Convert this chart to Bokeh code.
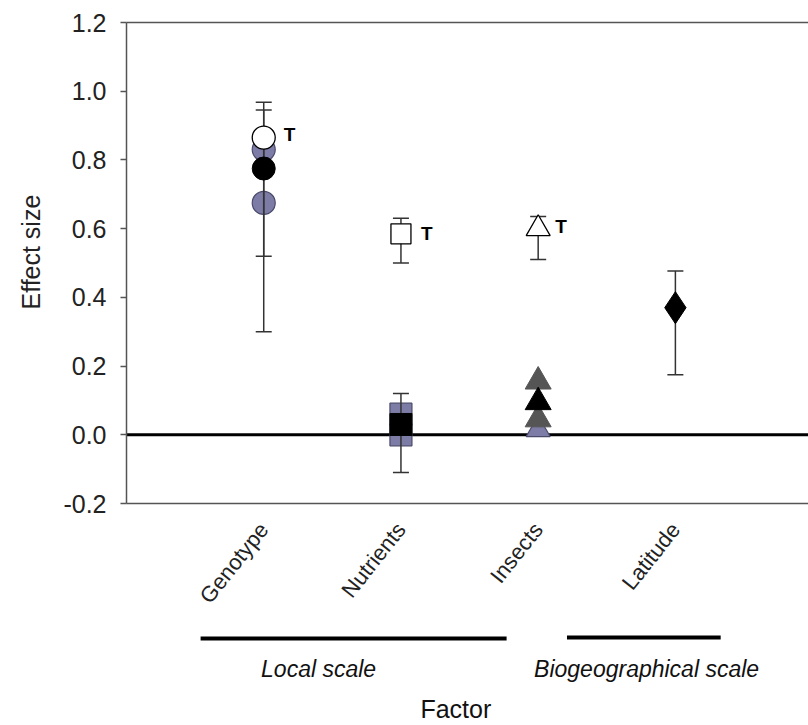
import math
from bokeh.plotting import figure
from bokeh.models import (Range1d, FixedTicker, LinearAxis, Span)
from bokeh.layouts import column, row
from bokeh.core.properties import value
from bokeh.embed import file_html
from bokeh.resources import INLINE

# ---------------- data ----------------
factors = ["Genotype", "Nutrients", "Insects", "Latitude"]
factor_pos = [1, 2, 3, 4]

# white (trend, "T") estimates
white_x = [1, 2, 3]
white_y = [0.865, 0.585, 0.600]
white_lo = [0.52, 0.50, 0.51]
white_hi = [0.968, 0.630, 0.635]
white_marker = ["circle", "square", "triangle"]

# black estimates
black_x = [1, 2, 3]
black_y = [0.775, 0.030, 0.095]
black_marker = ["circle", "square", "triangle"]
black_err_x = [1, 2]
black_lo = [0.30, -0.11]
black_hi = [0.945, 0.12]

# blue-grey estimates
blue_x = [1, 1, 2, 2, 3]
blue_y = [0.830, 0.675, 0.060, 0.000, 0.015]
blue_marker = ["circle", "circle", "square", "square", "triangle"]

# dark grey estimates
grey_x = [3, 3]
grey_y = [0.155, 0.045]

# latitude
lat_x = [4]
lat_y = [0.37]
lat_lo = [0.175]
lat_hi = [0.477]

y_ticks = [-0.2, 0.0, 0.2, 0.4, 0.6, 0.8, 1.0, 1.2]

FONT = "Liberation Sans"
BLUE = "#7c7ca6"
BLUE_EDGE = "#4a4a6a"
GREY = "#555555"
AX = "#555555"
TXT = "#222222"

H_MAIN = 618
H_BOTTOM = 107

# ---------------- left strip (y label) ----------------
lf = figure(width=60, height=H_MAIN, output_backend="svg", toolbar_location=None,
            x_range=Range1d(0, 60), y_range=Range1d(0, H_MAIN),
            min_border=0)
lf.axis.visible = False
lf.grid.visible = False
lf.outline_line_color = None
lf.text(x=[30], y=[H_MAIN - 295], text=["Effect size"], angle=math.pi / 2,
        text_align="center", text_baseline="middle", text_font=value(FONT),
        text_font_size="25px", text_color=TXT)

# ---------------- main figure ----------------
p = figure(width=748, height=H_MAIN, output_backend="svg", toolbar_location=None,
           x_range=Range1d(0, 4.97), y_range=Range1d(-0.2, 1.2),
           min_border_left=66, min_border_right=0, min_border_top=22,
           min_border_bottom=114)
p.outline_line_color = None
p.grid.visible = False

# zero line (under markers)
p.add_layout(Span(location=0, dimension="width", line_color="black",
                  line_width=3, level="underlay"))

# y axis
ya = p.yaxis[0]
ya.ticker = FixedTicker(ticks=y_ticks)
ya.major_label_overrides = {t: ("%.1f" % t) for t in y_ticks}
ya.minor_tick_line_color = None
ya.major_tick_in = 0
ya.major_tick_out = 6
ya.axis_line_color = AX
ya.axis_line_width = 1.5
ya.major_tick_line_color = AX
ya.major_tick_line_width = 1.5
ya.major_label_text_font = FONT
ya.major_label_text_font_size = "25px"
ya.major_label_text_color = TXT
ya.major_label_standoff = 14

# x axis
xa = p.xaxis[0]
xa.ticker = FixedTicker(ticks=factor_pos)
xa.major_label_overrides = {k: v for k, v in zip(factor_pos, factors)}
xa.major_label_orientation = 0.9
xa.major_tick_line_color = None
xa.minor_tick_line_color = None
xa.axis_line_color = AX
xa.axis_line_width = 1.5
xa.major_label_text_font = FONT
xa.major_label_text_font_size = "22px"
xa.major_label_text_color = TXT
xa.major_label_standoff = 16

# top border line
top = LinearAxis(major_tick_line_color=None, minor_tick_line_color=None,
                 major_label_text_font_size="0px", axis_line_color=AX,
                 axis_line_width=1.5, ticker=FixedTicker(ticks=[]))
p.add_layout(top, "above")

CAP = 16

# blue-grey markers
p.scatter(x=blue_x, y=blue_y, marker=blue_marker, size=[23, 23, 22, 22, 24],
          fill_color=BLUE, line_color=BLUE_EDGE, line_width=1.2)

# error bars
def errbars(xs, lo, hi):
    p.segment(x0=xs, y0=lo, x1=xs, y1=hi, line_color="#333333", line_width=1.5)
    p.scatter(x=xs, y=lo, marker="dash", size=CAP, line_color="#333333", line_width=1.5)
    p.scatter(x=xs, y=hi, marker="dash", size=CAP, line_color="#333333", line_width=1.5)

errbars(white_x, white_lo, white_hi)
errbars(black_err_x, black_lo, black_hi)
errbars(lat_x, lat_lo, lat_hi)

# grey triangles
p.scatter(x=grey_x, y=grey_y, marker="triangle", size=26,
          fill_color=GREY, line_color=GREY, line_width=1)

# black markers
p.scatter(x=black_x, y=black_y, marker=black_marker, size=[23, 22, 26],
          fill_color="black", line_color="black", line_width=1)

# white markers
p.scatter(x=white_x, y=white_y, marker=white_marker, size=[23, 20, 24],
          fill_color="white", line_color="black", line_width=1.3)

# latitude diamond
p.scatter(x=lat_x, y=lat_y, marker="diamond", size=32,
          fill_color="black", line_color="black")

# T labels
p.text(x=white_x, y=white_y, text=["T", "T", "T"], x_offset=[20, 20, 17],
       y_offset=[-3, 0, -2],
       text_align="left", text_baseline="middle", text_font=value(FONT),
       text_font_style="bold", text_font_size="19px", text_color="black")

# ---------------- bottom annotation strip ----------------
q = figure(width=808, height=H_BOTTOM, output_backend="svg", toolbar_location=None,
           x_range=p.x_range, y_range=Range1d(0, H_BOTTOM),
           min_border_left=126, min_border_right=0, min_border_top=0,
           min_border_bottom=0)
q.axis.visible = False
q.grid.visible = False
q.outline_line_color = None

scale_names = ["Local scale", "Biogeographical scale"]
bar_x0 = [0.54, 3.21]
bar_x1 = [2.77, 4.33]
name_x = [1.40, 3.79]
q.segment(x0=bar_x0, y0=[87, 88], x1=bar_x1, y1=[87, 88], line_color="black",
          line_width=4)
q.text(x=name_x, y=[57, 57], text=scale_names, text_align="center",
       text_baseline="middle", text_font=value(FONT), text_font_style="italic",
       text_font_size="23px", text_color="#111111")
q.text(x=[2.40], y=[17], text=["Factor"], text_align="center",
       text_baseline="middle", text_font=value(FONT), text_font_size="25px",
       text_color="#111111")

layout = column(row(lf, p, spacing=0), q, spacing=0)
open("out.html", "w").write(file_html(layout, INLINE))
